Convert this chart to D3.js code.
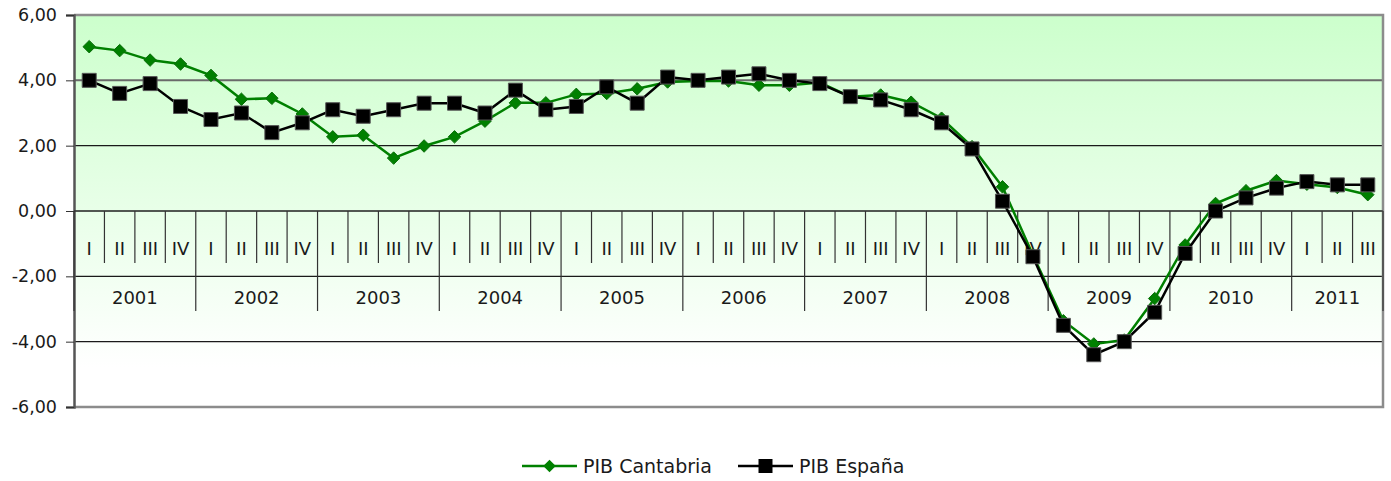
<!DOCTYPE html>
<html lang="es">
<head>
<meta charset="UTF-8">
<title>PIB Cantabria / PIB España</title>
<style>
    body { margin: 0; background: #fff; }
    text { font-family: "DejaVu Sans", sans-serif; fill: #1a1a1a; }
</style>
</head>
<body>
<svg id="chart" width="1391" height="481"></svg>
<script src="https://d3js.org/d3.v7.min.js"></script>
<script>
// tasas de variacion interanual (%)
const years = ["2001", "2002", "2003", "2004", "2005", "2006", "2007", "2008", "2009", "2010", "2011"];
const quartersPerYear = [4, 4, 4, 4, 4, 4, 4, 4, 4, 4, 3];
const quarterNames = ["I", "II", "III", "IV"];
const yTicks = [-6, -4, -2, 0, 2, 4, 6];

const pibCantabria = [5.03, 4.91, 4.62, 4.50, 4.15, 3.42, 3.45, 2.97, 2.27, 2.32, 1.62, 1.99,
    2.27, 2.75, 3.31, 3.31, 3.57, 3.60, 3.74, 3.95, 3.98, 3.98, 3.85, 3.85,
    3.93, 3.50, 3.55, 3.33, 2.84, 1.97, 0.74, -1.35, -3.36, -4.07, -3.95, -2.68,
    -1.04, 0.23, 0.62, 0.93, 0.82, 0.72, 0.50];
const pibEspana = [4.0, 3.6, 3.9, 3.2, 2.8, 3.0, 2.4, 2.7, 3.1, 2.9, 3.1, 3.3,
    3.3, 3.0, 3.7, 3.1, 3.2, 3.8, 3.3, 4.1, 4.0, 4.1, 4.2, 4.0,
    3.9, 3.5, 3.4, 3.1, 2.7, 1.9, 0.3, -1.4, -3.5, -4.4, -4.0, -3.1,
    -1.3, 0.0, 0.4, 0.7, 0.9, 0.8, 0.8];

// periodos "2001-I" ... "2011-III"
const periods = [];
years.forEach((yr, i) => {
    for (let q = 0; q < quartersPerYear[i]; q++) periods.push({ year: yr, q: quarterNames[q], key: yr + "-" + quarterNames[q] });
});

const svg = d3.select("#chart");
const plotL = 74, plotR = 1383, plotT = 15, plotB = 407;

const x = d3.scaleBand().domain(periods.map(d => d.key)).range([plotL, plotR]);
const y = d3.scaleLinear().domain([-6, 6]).range([plotB, plotT]);

// fondo degradado
const grad = svg.append("defs").append("linearGradient")
    .attr("id", "bg").attr("x1", 0).attr("y1", 0).attr("x2", 0).attr("y2", 1);
grad.append("stop").attr("offset", "0%").attr("stop-color", "#ccffcc");
grad.append("stop").attr("offset", "90%").attr("stop-color", "#ffffff");

svg.append("rect")
    .attr("x", plotL).attr("y", plotT)
    .attr("width", plotR - plotL).attr("height", plotB - plotT)
    .attr("fill", "url(#bg)");

// lineas de division
svg.append("g")
    .selectAll("line")
    .data(yTicks.filter(v => v > -6 && v < 6))
    .join("line")
    .attr("x1", plotL).attr("x2", plotR)
    .attr("y1", d => y(d)).attr("y2", d => y(d))
    .attr("stroke", d => d === 4 ? "#6a6a6a" : "#1a1a1a")
    .attr("stroke-width", d => d === 4 ? 2 : 1.2);

// borde del area de trazado
svg.append("path")
    .attr("d", `M${plotL},${plotT}H${plotR}V${plotB}H${plotL}`)
    .attr("fill", "none").attr("stroke", "#8c8c8c").attr("stroke-width", 2.5);

// eje Y
const yAxis = svg.append("g").attr("transform", `translate(${plotL},0)`)
    .call(d3.axisLeft(y).tickValues(yTicks).tickSize(8).tickPadding(9)
        .tickFormat(d => d3.format(".2f")(d).replace(".", ",").replace("−", "-")));
yAxis.select(".domain").attr("stroke", "#555").attr("stroke-width", 2.5);
yAxis.selectAll(".tick line").attr("stroke", "#333");
yAxis.selectAll("text").style("font-size", "17.5px").attr("fill", "#1a1a1a");

// eje de categorias (cruza en 0)
const y0 = y(0);
const catAxis = svg.append("g");
catAxis.append("line")
    .attr("x1", plotL).attr("x2", plotR).attr("y1", y0).attr("y2", y0)
    .attr("stroke", "#222").attr("stroke-width", 1.2);

// separadores de trimestres
catAxis.selectAll(".qtick")
    .data(periods.filter(d => d.q !== "I"))
    .join("line")
    .attr("x1", d => x(d.key)).attr("x2", d => x(d.key))
    .attr("y1", y0).attr("y2", y0 + 52)
    .attr("stroke", "#333").attr("stroke-width", 1.2);

// separadores de anos
const yearStarts = periods.filter(d => d.q === "I").map(d => x(d.key)).concat([plotR]);
catAxis.selectAll(".ytick")
    .data(yearStarts)
    .join("line")
    .attr("x1", d => d).attr("x2", d => d)
    .attr("y1", y0).attr("y2", y0 + 100)
    .attr("stroke", "#333").attr("stroke-width", 1.2);

catAxis.selectAll(".qlabel")
    .data(periods)
    .join("text")
    .attr("x", d => x(d.key) + x.bandwidth() / 2)
    .attr("y", y0 + 44)
    .attr("text-anchor", "middle")
    .style("font-size", "18px")
    .text(d => d.q);

catAxis.selectAll(".ylabel")
    .data(years)
    .join("text")
    .attr("x", (d, i) => (yearStarts[i] + yearStarts[i + 1]) / 2)
    .attr("y", y0 + 93)
    .attr("text-anchor", "middle")
    .style("font-size", "18px")
    .text(d => d);

// series
const cx = i => x(periods[i].key) + x.bandwidth() / 2;
const line = d3.line().x((d, i) => cx(i)).y(d => y(d));

const diamond = d3.symbol().type(d3.symbolDiamond2).size(100);
const square = d3.symbol().type(d3.symbolSquare).size(196);

function drawSeries(values, color, sym, outline) {
    svg.append("path")
        .datum(values)
        .attr("d", line)
        .attr("fill", "none")
        .attr("stroke", color)
        .attr("stroke-width", 2.5);
    svg.append("g").selectAll("path")
        .data(values)
        .join("path")
        .attr("transform", (d, i) => `translate(${cx(i)},${y(d)})`)
        .attr("d", sym)
        .attr("fill", color)
        .attr("stroke", outline)
        .attr("stroke-width", 1);
}

drawSeries(pibCantabria, "#008000", diamond, "#0a6e0a");
drawSeries(pibEspana, "#000000", square, "#555");

// leyenda
const legend = [
    { name: "PIB Cantabria", color: "#008000", sym: diamond, x: 522 },
    { name: "PIB España", color: "#000000", sym: square, x: 738 }
];
const lg = svg.append("g").selectAll("g").data(legend).join("g")
    .attr("transform", d => `translate(${d.x},466)`);
lg.append("line").attr("x1", 0).attr("x2", 55).attr("y1", 0).attr("y2", 0)
    .attr("stroke", d => d.color).attr("stroke-width", 2.5);
lg.append("path").attr("transform", "translate(27.5,0)")
    .attr("d", d => d.sym()).attr("fill", d => d.color);
lg.append("text").attr("x", 61).attr("y", 0).attr("dy", "0.36em")
    .style("font-size", "19px")
    .text(d => d.name);
</script>
</body>
</html>
